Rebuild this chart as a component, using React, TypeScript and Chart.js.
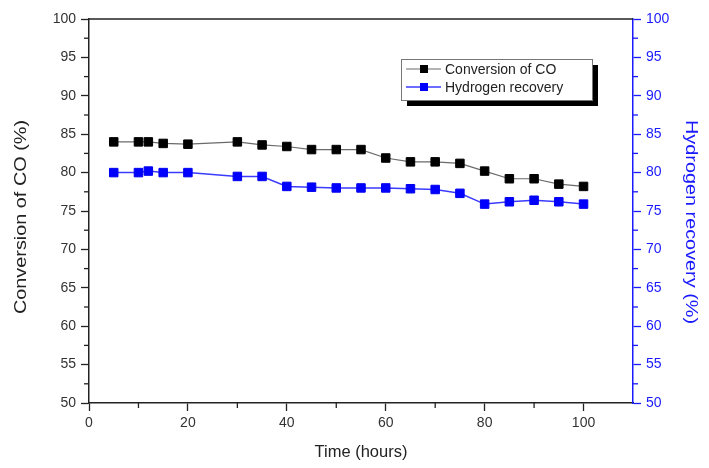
import React, { useEffect, useRef } from 'react';
import { Chart, registerables } from 'chart.js';

Chart.register(...registerables);

const timeHours = [5, 10, 12, 15, 20, 30, 35, 40, 45, 50, 55, 60, 65, 70, 75, 80, 85, 90, 95, 100];
const coConversion = [84.0, 84.0, 84.0, 83.8, 83.7, 84.0, 83.6, 83.4, 83.0, 83.0, 83.0, 81.9, 81.4, 81.4, 81.2, 80.2, 79.2, 79.2, 78.5, 78.2];
const h2Recovery = [80.0, 80.0, 80.2, 80.0, 80.0, 79.5, 79.5, 78.2, 78.1, 78.0, 78.0, 78.0, 77.9, 77.8, 77.3, 75.9, 76.2, 76.4, 76.2, 75.9];
const seriesLabels = ['Conversion of CO', 'Hydrogen recovery'];
const xTitle = 'Time (hours)';
const yTitle = 'Conversion of CO (%)';
const y1Title = 'Hydrogen recovery (%)';
const xTickValues = [0, 20, 40, 60, 80, 100];
const xMinorTicks = [10, 30, 50, 70, 90];
const yTickValues = [50, 55, 60, 65, 70, 75, 80, 85, 90, 95, 100];
const yMinorTicks = [52.5, 57.5, 62.5, 67.5, 72.5, 77.5, 82.5, 87.5, 92.5, 97.5];

const BLUE = '#1a1aff';
const FONT = '"Liberation Sans", Arial, sans-serif';

const decorPlugin = {
  id: 'decor',
  afterDraw(chart: any) {
    const { ctx, chartArea: ca, scales } = chart;
    ctx.save();
    // top frame line
    ctx.strokeStyle = '#222';
    ctx.lineWidth = 1.5;
    ctx.beginPath();
    ctx.moveTo(ca.left, ca.top);
    ctx.lineTo(ca.right, ca.top);
    ctx.stroke();

    // minor ticks
    const minorLen = 5;
    ctx.lineWidth = 1.3;
    ctx.strokeStyle = '#222';
    xMinorTicks.forEach((v) => {
      const x = scales.x.getPixelForValue(v);
      ctx.beginPath();
      ctx.moveTo(x, ca.bottom);
      ctx.lineTo(x, ca.bottom + minorLen);
      ctx.stroke();
    });
    yMinorTicks.forEach((v) => {
      const y = scales.y.getPixelForValue(v);
      ctx.beginPath();
      ctx.moveTo(ca.left, y);
      ctx.lineTo(ca.left - minorLen, y);
      ctx.stroke();
    });
    ctx.strokeStyle = BLUE;
    yMinorTicks.forEach((v) => {
      const y = scales.y1.getPixelForValue(v);
      ctx.beginPath();
      ctx.moveTo(ca.right, y);
      ctx.lineTo(ca.right + minorLen, y);
      ctx.stroke();
    });

    // vertical axis titles (slightly stretched along their length like the source image)
    const stretch = 1.24;
    ctx.font = `16px ${FONT}`;
    ctx.textAlign = 'center';
    ctx.textBaseline = 'middle';
    ctx.save();
    ctx.translate(22, 217);
    ctx.rotate(-Math.PI / 2);
    ctx.scale(stretch, 1);
    ctx.fillStyle = '#222';
    ctx.fillText(yTitle, 0, 0);
    ctx.restore();
    ctx.save();
    ctx.translate(690, 222);
    ctx.rotate(Math.PI / 2);
    ctx.scale(stretch, 1);
    ctx.fillStyle = BLUE;
    ctx.fillText(y1Title, 0, 0);
    ctx.restore();

    // legend box
    const bx = 401, by = 59, bw = 191, bh = 41, sh = 6;
    ctx.fillStyle = '#000';
    ctx.fillRect(bx + sh, by + sh, bw, bh);
    ctx.fillStyle = '#fff';
    ctx.fillRect(bx, by, bw, bh);
    ctx.strokeStyle = '#777';
    ctx.lineWidth = 1;
    ctx.strokeRect(bx + 0.5, by + 0.5, bw, bh);

    const rows = [by + 10, by + 28];
    chart.data.datasets.forEach((ds: any, i: number) => {
      const y = rows[i];
      ctx.strokeStyle = ds.borderColor;
      ctx.lineWidth = ds.borderWidth;
      ctx.beginPath();
      ctx.moveTo(bx + 5, y);
      ctx.lineTo(bx + 40, y);
      ctx.stroke();
      ctx.fillStyle = ds.pointBackgroundColor;
      ctx.fillRect(bx + 19, y - 4, 8, 8);
      ctx.fillStyle = '#222';
      ctx.font = `14px ${FONT}`;
      ctx.textBaseline = 'middle';
      ctx.textAlign = 'left';
      ctx.fillText(ds.label, bx + 44, y + 1);
    });
    ctx.restore();
  },
};

export default function App() {
  const canvasRef = useRef<HTMLCanvasElement | null>(null);

  useEffect(() => {
    if (!canvasRef.current) return;
    Chart.defaults.font.family = FONT;
    const chart = new Chart(canvasRef.current, {
      type: 'line',
      data: {
        datasets: [
          {
            label: seriesLabels[0],
            data: timeHours.map((t, i) => ({ x: t, y: coConversion[i] })),
            yAxisID: 'y',
            borderColor: '#6a6a6a',
            borderWidth: 1.2,
            pointStyle: 'rect',
            pointRadius: 6,
            pointBackgroundColor: '#000',
            pointBorderColor: '#000',
            pointBorderWidth: 1,
            tension: 0,
          },
          {
            label: seriesLabels[1],
            data: timeHours.map((t, i) => ({ x: t, y: h2Recovery[i] })),
            yAxisID: 'y1',
            borderColor: '#3b3bff',
            borderWidth: 1.5,
            pointStyle: 'rect',
            pointRadius: 6,
            pointBackgroundColor: '#0000ff',
            pointBorderColor: '#0000ee',
            pointBorderWidth: 1,
            tension: 0,
          },
        ],
      },
      options: {
        responsive: false,
        animation: false,
        layout: { padding: { top: 19, left: 0, right: 0, bottom: 0 } },
        plugins: {
          legend: { display: false },
          tooltip: { enabled: false },
        },
        scales: {
          x: {
            type: 'linear',
            min: 0,
            max: 110,
            afterBuildTicks: (s: any) => {
              s.ticks = xTickValues.map((v) => ({ value: v }));
            },
            afterFit: (s: any) => {
              s.height = 65;
            },
            ticks: { color: '#333', font: { size: 14 }, padding: 4, maxRotation: 0 },
            grid: { display: true, drawOnChartArea: false, drawTicks: true, tickLength: 8, color: '#222', tickWidth: 1.3 },
            border: { display: true, color: '#222', width: 1.5 },
            title: { display: true, text: xTitle, color: '#222', font: { size: 16.5 }, padding: { top: 0, bottom: 6 } },
          },
          y: {
            type: 'linear',
            position: 'left',
            min: 50,
            max: 100,
            afterBuildTicks: (s: any) => {
              s.ticks = yTickValues.map((v) => ({ value: v }));
            },
            afterFit: (s: any) => {
              s.width = 89;
            },
            ticks: { color: '#333', font: { size: 14 }, padding: 5 },
            grid: { display: true, drawOnChartArea: false, drawTicks: true, tickLength: 8, color: '#222', tickWidth: 1.3 },
            border: { display: true, color: '#222', width: 1.5 },
            title: { display: false },
          },
          y1: {
            type: 'linear',
            position: 'right',
            min: 50,
            max: 100,
            afterBuildTicks: (s: any) => {
              s.ticks = yTickValues.map((v) => ({ value: v }));
            },
            afterFit: (s: any) => {
              s.width = 76;
            },
            ticks: { color: BLUE, font: { size: 14 }, padding: 5 },
            grid: { display: true, drawOnChartArea: false, drawTicks: true, tickLength: 8, color: BLUE, tickWidth: 1.3 },
            border: { display: true, color: BLUE, width: 1.5 },
            title: { display: false },
          },
        },
      },
      plugins: [decorPlugin],
    } as any);
    return () => chart.destroy();
  }, []);

  return (
    <div style={{ position: 'fixed', left: 0, top: 0, width: 709, height: 468, background: '#fff' }}>
      <canvas ref={canvasRef} width={709} height={468} style={{ display: 'block' }} />
    </div>
  );
}
